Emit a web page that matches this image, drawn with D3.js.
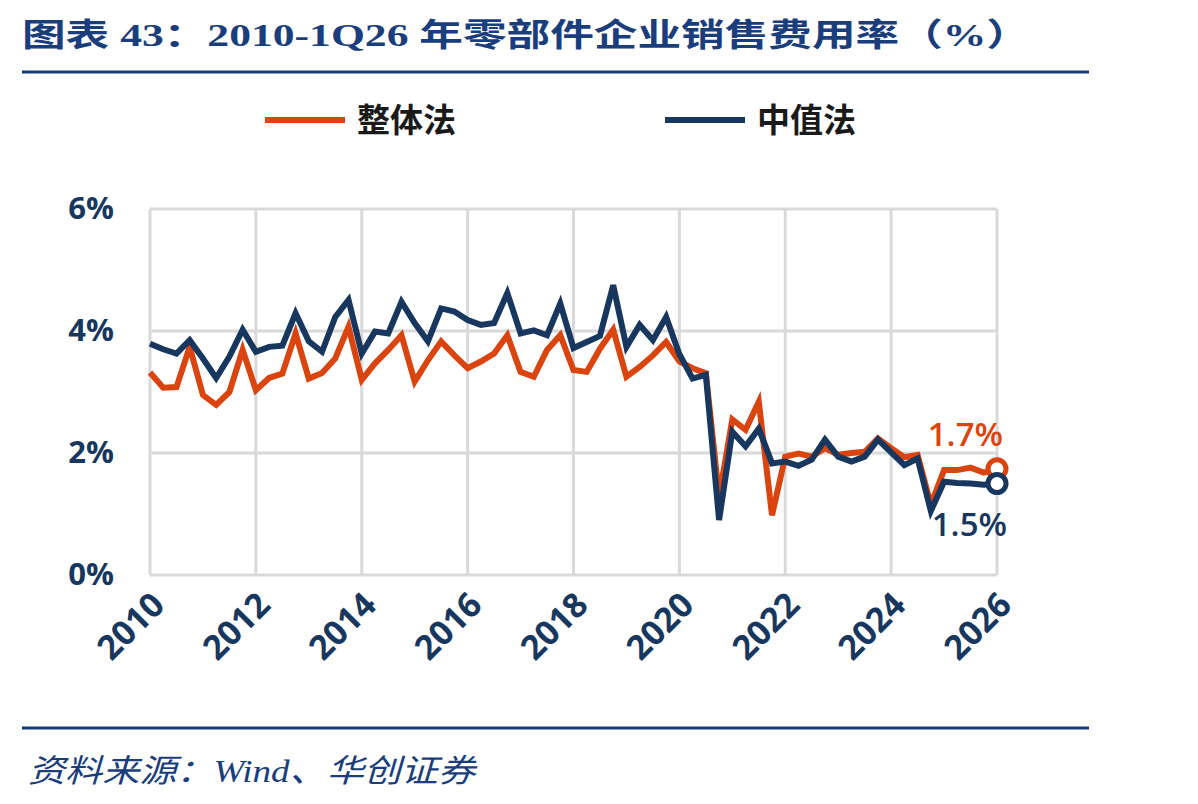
<!DOCTYPE html>
<html>
<head>
<meta charset="utf-8">
<script src="https://cdn.jsdelivr.net/npm/d3@7"></script>
<style>
  body { margin: 0; background: #fff; }
  svg { display: block; }
</style>
</head>
<body>
<div id="chart"></div>
<script>
// quarterly series, 2010Q1 .. 2026Q1
const startYear = 2010;
const overall = [3.32, 3.07, 3.08, 3.74, 2.95, 2.79, 3.00, 3.69, 3.03, 3.23, 3.30, 3.96,
  3.22, 3.31, 3.55, 4.07, 3.20, 3.47, 3.69, 3.93, 3.17, 3.52, 3.83, 3.60,
  3.39, 3.50, 3.63, 3.93, 3.33, 3.25, 3.69, 3.93, 3.36, 3.33, 3.71, 4.02,
  3.25, 3.41, 3.60, 3.82, 3.50, 3.39, 3.31, 1.28, 2.55, 2.38, 2.84, 0.98,
  1.94, 1.99, 1.94, 2.08, 1.97, 2.00, 2.02, 2.24, 2.08, 1.93, 1.97, 1.15,
  1.72, 1.72, 1.76, 1.68, 1.74];
const median = [3.79, 3.70, 3.63, 3.85, 3.55, 3.23, 3.58, 4.02, 3.66, 3.74, 3.76, 4.29,
  3.83, 3.66, 4.23, 4.51, 3.63, 3.99, 3.96, 4.48, 4.13, 3.83, 4.37, 4.32,
  4.18, 4.10, 4.13, 4.62, 3.96, 4.01, 3.93, 4.45, 3.72, 3.82, 3.92, 4.75,
  3.74, 4.10, 3.85, 4.23, 3.62, 3.22, 3.28, 0.90, 2.35, 2.11, 2.40, 1.83,
  1.86, 1.79, 1.89, 2.22, 1.94, 1.86, 1.94, 2.22, 2.01, 1.80, 1.91, 1.05,
  1.53, 1.51, 1.50, 1.48, 1.50];
const xTicks = [2010, 2012, 2014, 2016, 2018, 2020, 2022, 2024, 2026];
const yTicks = [0, 2, 4, 6];
const seriesNames = ["整体法", "中值法"];
const endLabels = ["1.7%", "1.5%"];

const W = 1198, H = 804;
const orange = "#d9440f", navy = "#17375e", titleBlue = "#1a3d7c";

const svg = d3.select("#chart").append("svg")
  .attr("width", W).attr("height", H);

// title + rules
svg.append("text")
  .attr("x", 22).attr("y", 46)
  .attr("fill", titleBlue)
  .attr("font-family", "'Liberation Serif', 'Noto Sans CJK SC', serif")
  .attr("font-weight", "bold")
  .attr("font-size", 32)
  .attr("textLength", 1008)
  .attr("lengthAdjust", "spacingAndGlyphs")
  .text("图表 43：2010-1Q26 年零部件企业销售费用率（%）");

svg.append("line").attr("x1", 22).attr("x2", 1089).attr("y1", 72).attr("y2", 72)
  .attr("stroke", titleBlue).attr("stroke-width", 3);
svg.append("line").attr("x1", 22).attr("x2", 1089).attr("y1", 728).attr("y2", 728)
  .attr("stroke", titleBlue).attr("stroke-width", 3);

svg.append("text")
  .attr("x", 28).attr("y", 782)
  .attr("fill", titleBlue)
  .attr("font-family", "'Liberation Serif', 'Noto Sans CJK SC', serif")
  .attr("font-style", "italic")
  .attr("font-size", 32)
  .attr("textLength", 447)
  .attr("lengthAdjust", "spacingAndGlyphs")
  .text("资料来源：Wind、华创证券");

// scales
const x = d3.scaleLinear().domain([2010, 2026]).range([150, 997]);
const y = d3.scaleLinear().domain([0, 6]).range([575, 209]);

// grid
svg.append("g").selectAll("line").data(yTicks).join("line")
  .attr("x1", 150).attr("x2", 997)
  .attr("y1", d => y(d)).attr("y2", d => y(d))
  .attr("stroke", "#d9d9d9").attr("stroke-width", 3);
svg.append("g").selectAll("line").data(xTicks).join("line")
  .attr("x1", d => x(d)).attr("x2", d => x(d))
  .attr("y1", y(6)).attr("y2", y(0))
  .attr("stroke", "#d9d9d9").attr("stroke-width", 3);

// axes labels
const yAxis = svg.append("g")
  .attr("transform", "translate(117,0)")
  .call(d3.axisLeft(y).tickValues(yTicks).tickFormat(d => d + "%").tickSize(0));
yAxis.select(".domain").remove();
yAxis.selectAll("text")
  .attr("fill", navy).attr("font-size", 31).attr("font-weight", "bold")
  .attr("font-family", "'Open Sans', 'DejaVu Sans', sans-serif");

const xAxis = svg.append("g")
  .attr("transform", "translate(0,588)")
  .call(d3.axisBottom(x).tickValues(xTicks).tickFormat(d3.format("d")).tickSize(0));
xAxis.select(".domain").remove();
xAxis.selectAll("text")
  .attr("fill", navy).attr("font-size", 34).attr("font-weight", "bold")
  .attr("font-family", "'Open Sans', 'DejaVu Sans', sans-serif")
  .attr("text-anchor", "end")
  .attr("dy", "0.7em")
  .attr("transform", "translate(-3,0) rotate(-45)");

// lines
const pts = vals => vals.map((v, i) => ({ t: startYear + i / 4, v }));
const line = d3.line().x(d => x(d.t)).y(d => y(d.v));
const series = [
  { name: seriesNames[0], color: orange, data: pts(overall) },
  { name: seriesNames[1], color: navy, data: pts(median) }
];

series.forEach(s => {
  svg.append("path")
    .datum(s.data)
    .attr("fill", "none")
    .attr("stroke", s.color)
    .attr("stroke-width", 6)
    .attr("stroke-linejoin", "miter")
    .attr("d", line);
});

series.forEach(s => {
  const last = s.data[s.data.length - 1];
  svg.append("circle")
    .attr("cx", x(last.t)).attr("cy", y(last.v)).attr("r", 9)
    .attr("fill", "#fff").attr("stroke", s.color).attr("stroke-width", 5);
});

// end labels
const lastO = series[0].data[series[0].data.length - 1];
const lastM = series[1].data[series[1].data.length - 1];
svg.append("text")
  .attr("x", x(lastO.t) + 6).attr("y", y(lastO.v) - 23)
  .attr("text-anchor", "end")
  .attr("fill", orange).attr("font-size", 33).attr("font-weight", 600)
  .attr("font-family", "'Open Sans', 'DejaVu Sans', sans-serif")
  .text(endLabels[0]);
svg.append("text")
  .attr("x", x(lastM.t) + 10).attr("y", y(lastM.v) + 52)
  .attr("text-anchor", "end")
  .attr("fill", navy).attr("font-size", 33).attr("font-weight", 600)
  .attr("font-family", "'Open Sans', 'DejaVu Sans', sans-serif")
  .text(endLabels[1]);

// legend
const legendX = [265, 665];
series.forEach((s, i) => {
  svg.append("line")
    .attr("x1", legendX[i]).attr("x2", legendX[i] + 80)
    .attr("y1", 120).attr("y2", 120)
    .attr("stroke", s.color).attr("stroke-width", 6);
  svg.append("text")
    .attr("x", legendX[i] + 92).attr("y", 132)
    .attr("fill", "#1a1a1a").attr("font-size", 33).attr("font-weight", "bold")
    .attr("font-family", "'Noto Sans CJK SC', sans-serif")
    .text(s.name);
});
</script>
</body>
</html>
